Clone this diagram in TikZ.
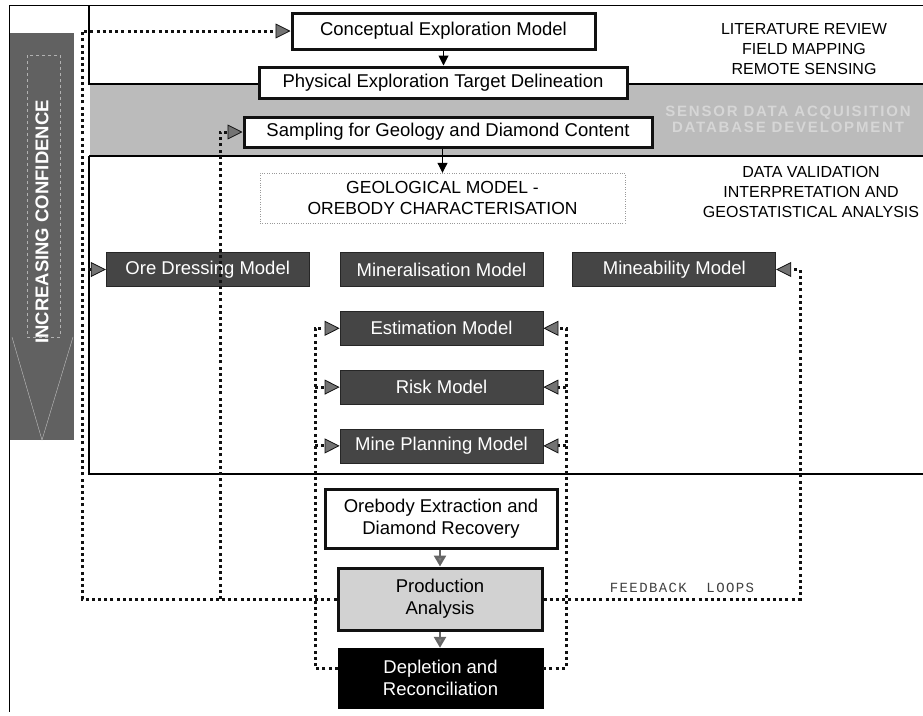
\documentclass[tikz,border=0pt]{standalone}
\usepackage{fontspec}
\setmainfont{Liberation Sans}
\newfontfamily\loopfont[LetterSpace=10]{Liberation Mono}
\newfontfamily\bandfont[LetterSpace=12]{Liberation Sans}
\usetikzlibrary{arrows.meta,positioning}
\definecolor{ink}{HTML}{111111}
\definecolor{slate}{HTML}{454545}
\definecolor{band}{HTML}{BBBBBB}
\definecolor{haze}{HTML}{D2D2D2}

\begin{document}
\begin{tikzpicture}[x=1pt,y=-1pt,
  wbox/.style={draw=ink,line width=3pt,fill=white,align=center,inner sep=0pt,font=\fontsize{18.5}{22}\selectfont},
  dbox/.style={draw=black!85,line width=0.8pt,fill=slate,text=white,inner sep=0pt,minimum width=203pt,minimum height=34pt,font=\fontsize{18.5}{22}\selectfont},
  fbline/.style={draw=ink,line width=3pt,dash pattern=on 3pt off 3.2pt},
  fbtip/.style={-{Triangle[length=15pt,width=15pt,fill=black!55,line width=0.8pt]}},
  flow/.style={-{Triangle[length=10pt,width=10pt]},line width=1pt},
  flowgray/.style={-{Triangle[length=11pt,width=12pt,fill=black!50]},draw=black!60,line width=2.5pt},
  notes/.style={align=center,font=\fontsize{16}{20}\selectfont}]
\useasboundingbox (0,0) rectangle (923,715);
\draw[line width=1pt] (9,5) -- (923,5);
\draw[line width=1pt] (9,5) -- (9,712);
\fill[band] (90,85) rectangle (923,155);
\draw[line width=1.5pt] (89,5) -- (89,84) -- (923,84);
\draw[line width=1.5pt] (89,156) -- (923,156);
\draw[line width=1.5pt] (89,156) -- (89,474) -- (923,474);
\fill[black!62] (10,33) rectangle (74,440);
\draw[black!30,dashed] (27,55) rectangle (60,337);
\draw[black!25] (12,337) -- (42,440) -- (73,337);
\node[rotate=90,text=white,font=\bfseries\fontsize{18.5}{20}\selectfont] (conf) at (42,222) {INCREASING CONFIDENCE};
\node[text=black!16,align=center,font=\bandfont\bfseries\fontsize{15}{16}\selectfont] (bandtxt) at (788,119) {SENSOR DATA ACQUISITION\\DATABASE DEVELOPMENT};
\node[notes] (survey) at (804,49) {LITERATURE REVIEW\\FIELD MAPPING\\REMOTE SENSING};
\node[notes] (analysis) at (811,192) {DATA VALIDATION\\INTERPRETATION AND\\GEOSTATISTICAL ANALYSIS};

\node[wbox,minimum width=303pt,minimum height=36pt] (concept) at (443.5,31) {Conceptual Exploration Model};
\node[wbox,minimum width=368pt,minimum height=31pt] (target) at (443,82.5) {Physical Exploration Target Delineation};
\node[wbox,minimum width=408pt,minimum height=30pt] (sampling) at (448,132) {Sampling for Geology and Diamond Content};
\node[draw=black!40,dotted,fill=white,minimum width=365pt,minimum height=50pt,align=center,font=\fontsize{17.5}{21}\selectfont] (geomodel) at (442.5,198) {GEOLOGICAL MODEL -\\OREBODY CHARACTERISATION};

\node[dbox] (mineral) at (441.5,269.5) {Mineralisation Model};
\node[dbox,left=30pt of mineral] (oredress) {Ore Dressing Model};
\node[dbox,right=29pt of mineral] (mineab) {Mineability Model};
\node[dbox,below=24pt of mineral] (estim) {Estimation Model};
\node[dbox,below=24pt of estim] (risk) {Risk Model};
\node[dbox,below=24pt of risk] (mineplan) {Mine Planning Model};

\node[wbox,minimum width=232pt,minimum height=59pt] (extract) at (441,518.5) {Orebody Extraction and\\Diamond Recovery};
\node[wbox,fill=haze,minimum width=204pt,minimum height=62pt] (prodan) at (440,599) {Production\\Analysis};
\node[draw=black,fill=black,text=white,align=center,inner sep=0pt,minimum width=205pt,minimum height=60pt,font=\fontsize{18.5}{22}\selectfont] (deplet) at (440.5,678) {Depletion and\\Reconciliation};

\draw[flow] (concept.south) -- (concept.south |- target.north);
\draw[flow] (geomodel.north |- sampling.south) -- (geomodel.north);
\draw[flowgray] (extract.south -| prodan.north) -- (prodan.north);
\draw[flowgray] (prodan.south) -- (prodan.south |- deplet.north);

\coordinate (westa) at (82,599);
\coordinate (westb) at (220,599);
\coordinate (westc) at (315,668);
\coordinate (eastd) at (566,668);
\coordinate (easte) at (800,599);
\draw[fbline,fbtip] (prodan.west) -- (westa) -- (westa |- concept.west) -- (concept.west);
\draw[fbline,fbtip] (westa |- oredress.west) -- (oredress.west);
\draw[fbline,fbtip] (westb) -- (westb |- sampling.west) -- (sampling.west);
\draw[fbline,fbtip] (westc -| deplet.west) -- (westc) -- (westc |- estim.west) -- (estim.west);
\draw[fbline,fbtip] (westc |- risk.west) -- (risk.west);
\draw[fbline,fbtip] (westc |- mineplan.west) -- (mineplan.west);
\draw[fbline,fbtip] (eastd -| deplet.east) -- (eastd) -- (eastd |- estim.east) -- (estim.east);
\draw[fbline,fbtip] (eastd |- risk.east) -- (risk.east);
\draw[fbline,fbtip] (eastd |- mineplan.east) -- (mineplan.east);
\draw[fbline,fbtip] (prodan.east) -- (easte) -- (easte |- mineab.east) -- (mineab.east);
\node[text=black!75,font=\loopfont\fontsize{14}{16}\selectfont] (fblabel) at (682,588) {FEEDBACK\ \ LOOPS};
\end{tikzpicture}
\end{document}
